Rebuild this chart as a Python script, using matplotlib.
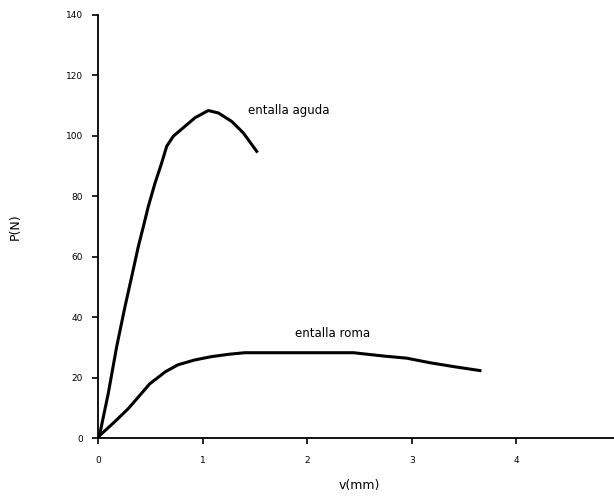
import matplotlib
matplotlib.use("Agg")
import matplotlib.pyplot as plt

# data
aguda_v = [0.0, 0.014, 0.094, 0.174, 0.254, 0.318, 0.381, 0.43, 0.477, 0.541, 0.605,
           0.653, 0.716, 0.828, 0.923, 1.051, 1.147, 1.275, 1.386, 1.514]
aguda_p = [0.0, 1.7, 14.9, 30.3, 43.6, 53.5, 63.4, 70.1, 76.7, 84.4, 91.1,
           96.6, 99.9, 103.2, 106.0, 108.4, 107.6, 104.8, 101.0, 94.9]

roma_v = [0.0, 0.014, 0.15, 0.285, 0.39, 0.49, 0.64, 0.76, 0.92, 1.08, 1.25, 1.40,
          1.88, 2.44, 2.73, 2.95, 3.17, 3.40, 3.65]
roma_p = [0.0, 1.0, 5.3, 9.8, 14.0, 18.0, 22.0, 24.3, 25.9, 27.0, 27.8, 28.3,
          28.3, 28.3, 27.2, 26.5, 25.0, 23.7, 22.4]

x_ticks = [0, 1, 2, 3, 4, 5]
y_ticks = [0, 20, 40, 60, 80, 100, 120, 140]

fig = plt.figure(figsize=(6.14, 4.98), dpi=100)
ax = fig.add_axes([0.1604, 0.1199, 1.0114 - 0.1604, 0.9699 - 0.1199])

ax.plot(aguda_v, aguda_p, color="black", lw=2.2, solid_joinstyle="round")
ax.plot(roma_v, roma_p, color="black", lw=2.2, solid_joinstyle="round")

ax.text(1.43, 108.4, "entalla aguda", fontsize=8.5, va="center", ha="left")
ax.text(1.88, 34.6, "entalla roma", fontsize=8.5, va="center", ha="left")

ax.set_xlim(0, 5)
ax.set_ylim(0, 140)
ax.set_xticks(x_ticks)
ax.set_yticks(y_ticks)
ax.tick_params(direction="out", length=4, width=1.2, labelsize=6.5, pad=7)
ax.tick_params(axis="x", pad=9)
for s in ["top", "right"]:
    ax.spines[s].set_visible(False)
for s in ["left", "bottom"]:
    ax.spines[s].set_linewidth(1.3)

ax.set_xlabel("v(mm)", fontsize=9, labelpad=10)
ax.set_ylabel("P(N)", fontsize=9, labelpad=32)

fig.savefig("out.png", dpi=100)
